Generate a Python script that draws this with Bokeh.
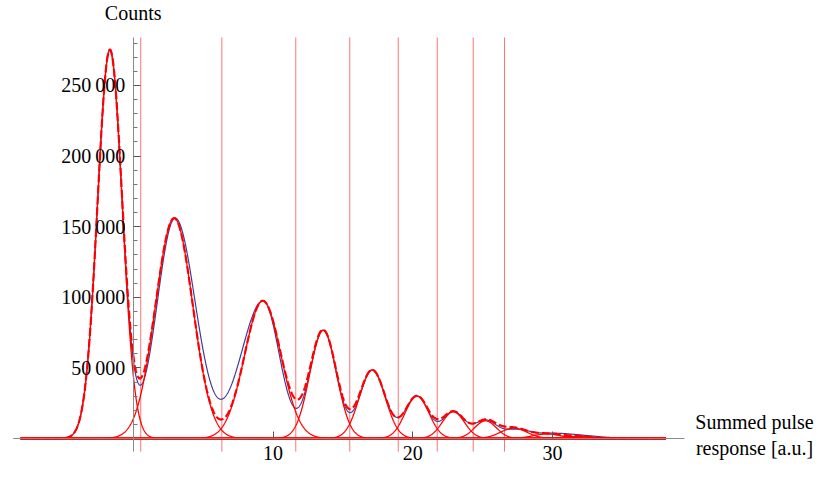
import numpy as np
from bokeh.plotting import figure
from bokeh.models import Range1d, FixedTicker
from bokeh.core.properties import value
from bokeh.embed import file_html
from bokeh.resources import INLINE

# ---------------- chart values ----------------
x_ticks = [10, 20, 30]
y_ticks = [50000, 100000, 150000, 200000, 250000]
y_tick_labels = ["50\u2009000", "100\u2009000", "150\u2009000", "200\u2009000", "250\u2009000"]
y_minor_ticks = [v for v in range(10000, 290000, 10000) if v % 50000 != 0]

# fit window boundaries (vertical lines)
window_edges = [0.54, 6.34, 11.63, 15.49, 18.96, 21.75, 24.32, 26.56]

# fitted Gaussian components (red)
fit_centers = [-1.67, 2.93, 9.27, 13.59, 17.10, 20.30, 22.90, 25.20, 27.22, 29.60, 31.80]
fit_heights = [275000, 156000, 97500, 76600, 48500, 30000, 18900, 12500, 7300, 3200, 1600]
fit_sigmas = [0.88, 1.33, 1.30, 0.95, 0.92, 0.85, 0.80, 0.78, 0.95, 1.00, 1.00]

# measured spectrum (blue), described by its peaks
data_centers = [-1.67, 3.00, 9.30, 13.60, 17.10, 20.30, 22.90, 25.20, 27.40, 29.80, 31.80, 33.50]
data_heights = [275000, 156000, 97500, 76600, 48500, 30000, 18900, 12500, 6000, 3000, 1800, 400]
data_sigma_left = [0.88, 1.30, 1.58, 0.95, 0.88, 0.85, 0.75, 0.78, 0.95, 1.20, 1.30, 1.20]
data_sigma_right = [0.88, 1.45, 1.15, 0.92, 0.92, 0.82, 0.80, 0.78, 0.95, 1.20, 1.30, 1.20]

x_axis_extent = [-8.56, 39.43]
y_axis_extent = [-9280, 283900]
data_x_extent = [-8.56, 38.40]
fit_x_extent = [-8.06, 38.10]

y_title = "Counts"
x_title = ["Summed pulse", "response [a.u.]"]

# ---------------- layout ----------------
W, H = 814, 462
px_per_x = 13.98
x0_px, y0_px = 132.7, 438.0
px_per_y = (y0_px - 37.0) / y_axis_extent[1]
x_start = -x0_px / px_per_x
x_end = (W - x0_px) / px_per_x
y_end = y0_px / px_per_y
y_start = -(H - y0_px) / px_per_y


def px_x(px):
    return x_start + px / px_per_x


def px_y(py):
    return y_end - py / px_per_y


FONT = "Liberation Serif"

p = figure(width=W, height=H, x_range=Range1d(x_start, x_end), y_range=Range1d(y_start, y_end),
           output_backend="svg", toolbar_location=None, min_border=0)
p.title.visible = False
p.outline_line_color = None
p.grid.visible = False
p.background_fill_color = "white"
p.border_fill_color = "white"

# axes crossing at origin
p.xaxis.fixed_location = 0
p.yaxis.fixed_location = 0
p.xaxis.bounds = tuple(x_axis_extent)
p.yaxis.bounds = tuple(y_axis_extent)
p.xaxis.ticker = FixedTicker(ticks=x_ticks, minor_ticks=[])
p.yaxis.ticker = FixedTicker(ticks=y_ticks, minor_ticks=y_minor_ticks)
p.yaxis.major_label_overrides = {t: s for t, s in zip(y_ticks, y_tick_labels)}
for ax in (p.xaxis[0], p.yaxis[0]):
    ax.axis_line_color = "#8a8a8a"
    ax.axis_line_width = 1
    ax.major_tick_line_color = "#555555"
    ax.minor_tick_line_color = "#777777"
    ax.major_tick_in = 7
    ax.major_tick_out = 0
    ax.minor_tick_in = 4
    ax.minor_tick_out = 0
    ax.major_label_text_font = FONT
    ax.major_label_text_font_size = "20px"
    ax.major_label_text_color = "black"
p.xaxis.major_label_standoff = 7
p.yaxis.major_label_standoff = 8

# window boundaries
n = len(window_edges)
p.segment(x0=window_edges, y0=[y_axis_extent[0]] * n, x1=window_edges, y1=[y_axis_extent[1]] * n,
          line_color="#ff0000", line_alpha=0.55, line_width=1)

# measured spectrum
xd = np.linspace(data_x_extent[0], data_x_extent[1], 2400)
yd = np.zeros_like(xd)
for c, h, sl, sr in zip(data_centers, data_heights, data_sigma_left, data_sigma_right):
    s = np.where(xd < c, sl, sr)
    yd += h * np.exp(-(xd - c) ** 2 / (2 * s ** 2))
p.line(xd, yd, line_color="#3d3d99", line_width=1.2)

# individual fitted components
xf = np.linspace(fit_x_extent[0], fit_x_extent[1], 2400)
total = np.zeros_like(xf)
for c, h, s in zip(fit_centers, fit_heights, fit_sigmas):
    g = h * np.exp(-(xf - c) ** 2 / (2 * s ** 2))
    total += g
    p.line(xf, g, line_color="#ff0000", line_width=1.3)

# total fit (dashed)
p.line(xf, total, line_color="#ff0000", line_width=2.2, line_dash="8 3")

# axis titles
p.text(x=[0], y=[px_y(12)], text=[y_title], text_font=value(FONT), text_font_size="20px",
       text_align="center", text_baseline="alphabetic", text_color="black")
p.text(x=[px_x(754)] * 2, y=[px_y(421), px_y(447)], text=x_title, text_font=value(FONT),
       text_font_size="20px", text_align="center", text_baseline="alphabetic", text_color="black")

open("out.html", "w").write(file_html(p, INLINE))
